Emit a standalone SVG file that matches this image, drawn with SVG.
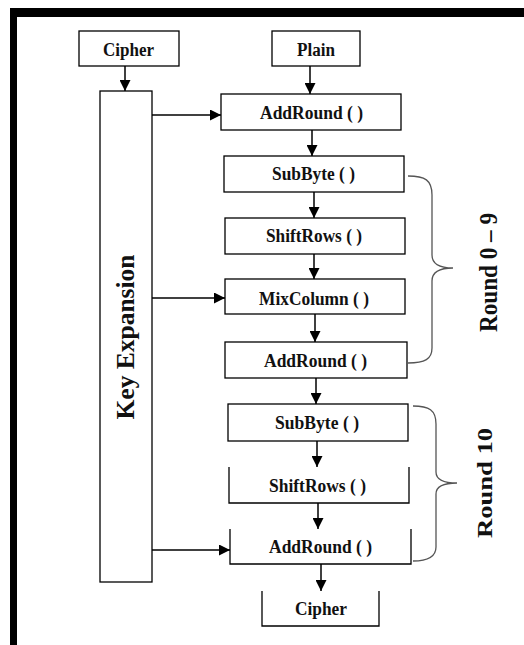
<svg xmlns="http://www.w3.org/2000/svg" width="524" height="645" viewBox="0 0 524 645">
<defs>
<marker id="ah" markerUnits="userSpaceOnUse" markerWidth="11" markerHeight="11" refX="11" refY="5.5" orient="auto">
<path d="M0,0 L11,5.5 L0,11 z" fill="#000"/>
</marker>
</defs>
<style>
.box{fill:#fff;stroke:#000;stroke-width:1.3}
.open{fill:none;stroke:#000;stroke-width:1.3}
.lbl{font-family:"Liberation Serif","Times New Roman",serif;font-weight:bold;font-size:18px;fill:#111;text-anchor:middle}
.big{font-family:"Liberation Serif","Times New Roman",serif;font-weight:bold;fill:#111;text-anchor:middle}
.conn line{stroke:#000;stroke-width:1.5;marker-end:url(#ah)}
.brace{fill:none;stroke:#555;stroke-width:1.3}
</style>
<rect width="524" height="645" fill="#fff"/>
<rect x="10" y="8" width="514" height="9" fill="#000"/>
<rect x="10" y="8" width="7" height="637" fill="#000"/>

<g id="cipher-in"><rect class="box" x="79" y="31" width="100" height="35"/><text class="lbl" x="128.5" y="56" textLength="51" lengthAdjust="spacingAndGlyphs">Cipher</text></g>
<g id="plain"><rect class="box" x="272" y="31" width="88" height="35"/><text class="lbl" x="316" y="56" textLength="38" lengthAdjust="spacingAndGlyphs">Plain</text></g>
<g id="key-expansion"><rect class="box" x="100" y="91" width="52" height="491"/><text class="big" font-size="25" x="134" y="337" transform="rotate(-90 134 337)" textLength="165" lengthAdjust="spacingAndGlyphs">Key Expansion</text></g>
<g id="addround1"><rect class="box" x="221" y="94" width="180" height="36"/><text class="lbl" x="311.5" y="119" textLength="103" lengthAdjust="spacingAndGlyphs">AddRound ( )</text></g>
<g id="subbyte1"><rect class="box" x="224" y="156" width="180" height="36"/><text class="lbl" x="313.5" y="180" textLength="83" lengthAdjust="spacingAndGlyphs">SubByte ( )</text></g>
<g id="shiftrows1"><rect class="box" x="225" y="218" width="180" height="36"/><text class="lbl" x="314" y="242" textLength="96" lengthAdjust="spacingAndGlyphs">ShiftRows ( )</text></g>
<g id="mixcolumn"><rect class="box" x="225" y="279" width="180" height="35"/><text class="lbl" x="314" y="305" textLength="110" lengthAdjust="spacingAndGlyphs">MixColumn ( )</text></g>
<g id="addround2"><rect class="box" x="225" y="342" width="182" height="36"/><text class="lbl" x="315.5" y="367" textLength="103" lengthAdjust="spacingAndGlyphs">AddRound ( )</text></g>
<g id="subbyte2"><rect class="box" x="228" y="404" width="180" height="37"/><text class="lbl" x="317" y="429" textLength="84" lengthAdjust="spacingAndGlyphs">SubByte ( )</text></g>
<g id="shiftrows2"><path class="open" d="M229,467 V503 H409 V467"/><text class="lbl" x="317.5" y="492" textLength="97" lengthAdjust="spacingAndGlyphs">ShiftRows ( )</text></g>
<g id="addround3"><path class="open" d="M230,529 V564 H411 V529"/><text class="lbl" x="320.5" y="553" textLength="103" lengthAdjust="spacingAndGlyphs">AddRound ( )</text></g>
<g id="cipher-out"><path class="open" d="M262,591 V626 H379 V591"/><text class="lbl" x="321" y="615" textLength="52" lengthAdjust="spacingAndGlyphs">Cipher</text></g>

<g id="round0-9"><path class="brace" d="M408,176 C425,176 432,180 432,195 L432,255 C432,264 440,268 453,268 C440,268 432,272 432,281 L432,348 C432,359 425,363 408,363"/><text class="big" font-size="26" x="497" y="272.5" transform="rotate(-90 497 272.5)" textLength="119" lengthAdjust="spacingAndGlyphs">Round 0 – 9</text></g>
<g id="round10"><path class="brace" d="M413,406 C429,406 436,410 436,424 L436,472 C436,480 445,483 457,483 C445,483 436,486 436,494 L436,547 C436,557 428,561 413,561"/><text class="big" font-size="22" x="492" y="483" transform="rotate(-90 492 483)" textLength="110" lengthAdjust="spacingAndGlyphs">Round 10</text></g>

<g id="connectors" class="conn">
<line x1="125" y1="66" x2="125" y2="91"/>
<line x1="310" y1="66" x2="310" y2="94"/>
<line x1="152" y1="115" x2="221" y2="115"/>
<line x1="312" y1="130" x2="312" y2="156"/>
<line x1="314" y1="192" x2="314" y2="218"/>
<line x1="314" y1="254" x2="314" y2="279"/>
<line x1="152" y1="298" x2="225" y2="298"/>
<line x1="315" y1="314" x2="315" y2="342"/>
<line x1="316" y1="378" x2="316" y2="404"/>
<line x1="317" y1="441" x2="317" y2="467"/>
<line x1="318" y1="503" x2="318" y2="529"/>
<line x1="152" y1="550" x2="230" y2="550"/>
<line x1="321" y1="564" x2="321" y2="591"/>
</g>
</svg>
